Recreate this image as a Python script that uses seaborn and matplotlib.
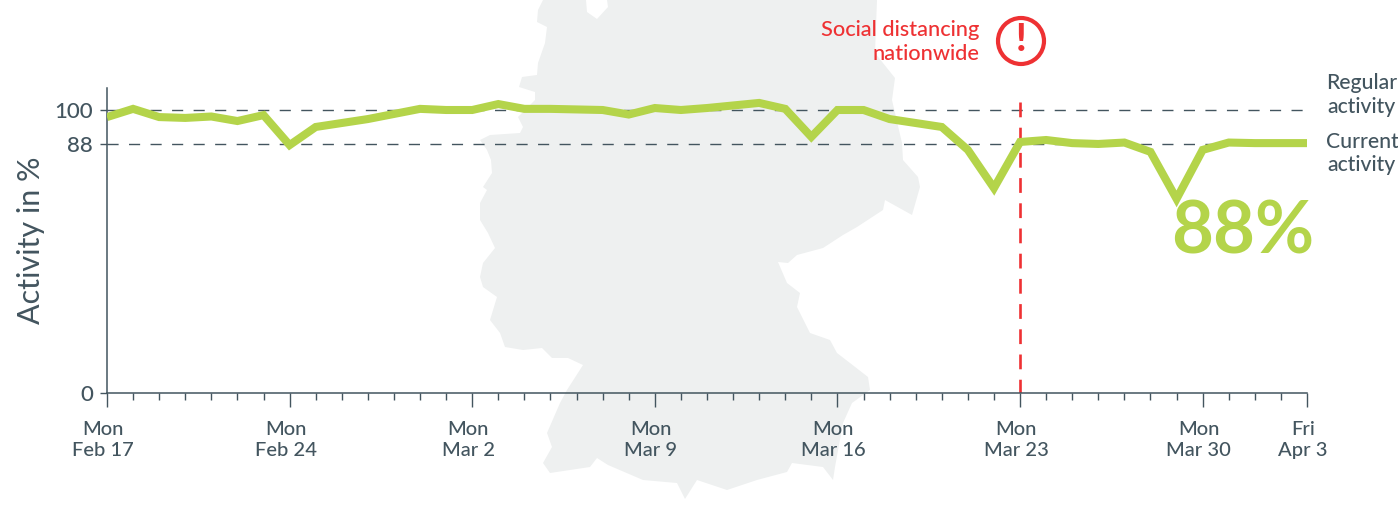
import matplotlib
matplotlib.use("Agg")
import matplotlib.pyplot as plt
import matplotlib.dates as mdates
import matplotlib.transforms as mtrans
from matplotlib.patches import Polygon, Circle
import pandas as pd
import seaborn as sns

activity = [97.5, 100.4, 97.5, 97.2, 97.7, 96.1, 98.2, 87.6, 94.0, 95.4, 96.8, 98.6,
            100.4, 100.0, 100.0, 102.1, 100.4, 100.4, 100.2, 100.0, 98.4, 100.7, 100.0,
            100.7, 101.6, 102.5, 100.4, 90.5, 100.0, 100.0, 96.8, 95.4, 94.0, 85.9, 72.4,
            88.7, 89.4, 88.3, 88.0, 88.5, 85.2, 68.6, 85.9, 88.5, 88.3, 88.3, 88.3]
start_date = "2020-02-17"
major_dates = ["2020-02-17", "2020-02-24", "2020-03-02", "2020-03-09", "2020-03-16",
               "2020-03-23", "2020-03-30", "2020-04-03"]
major_labels = ["Mon\nFeb 17", "Mon\nFeb 24", "Mon\nMar 2", "Mon\nMar 9", "Mon\nMar 16",
                "Mon\nMar 23", "Mon\nMar 30", "Fri\nApr 3"]
y_ticks = [0, 88, 100]
event_date = "2020-03-23"
headline = "88%"

# decorative background silhouette, in image pixels
map_outline = [(543,0),(538,10),(537,22),(547,27),(545,43),(538,63),(537,75),(522,77),(519,87),
    (535,92),(535,100),(518,117),(523,127),(520,133),(490,135),(480,140),(487,150),(491,160),
    (492,173),(483,187),(487,190),(480,203),(480,220),(488,233),(495,248),(483,263),(480,277),
    (483,287),(497,297),(490,320),(500,333),(505,347),(523,350),(542,348),(552,358),(568,358),
    (583,365),(567,390),(560,403),(547,433),(552,447),(543,463),(550,473),(590,467),(597,458),
    (608,465),(643,480),(677,483),(685,499),(697,480),(727,490),(757,480),(787,472),(792,463),
    (823,467),(833,480),(835,467),(843,423),(852,403),(870,390),(868,377),(850,363),(837,353),
    (830,340),(810,333),(797,307),(800,293),(787,283),(778,262),(788,263),(797,255),(823,248),
    (843,235),(857,227),(883,210),(885,200),(903,210),(912,215),(920,187),(918,177),(903,160),
    (902,143),(892,100),(895,78),(875,53),(877,0),(607,0),(608,7),(597,19),(587,12),(586,0)]

INK = "#43555f"
GREEN = "#b4d44a"
RED = "#ee3133"
MAP = "#eef0f0"
W, H = 1398, 516

sns.set_theme(style="white")
plt.rcParams["font.family"] = ["Lato", "DejaVu Sans"]
plt.rcParams["font.weight"] = "medium"

fig = plt.figure(figsize=(W / 100, H / 100), dpi=100)
ax = fig.add_axes([107 / W, 1 - 393 / H, 1200 / W, 305 / H])
ax.patch.set_alpha(0)

def px(x, y):
    return x / W, 1 - y / H

fig.patches.append(Polygon([px(*p) for p in map_outline], closed=True, transform=fig.transFigure,
                           facecolor=MAP, edgecolor="none", figure=fig, zorder=-1))

df = pd.DataFrame({"date": pd.date_range(start_date, periods=len(activity), freq="D"),
                   "activity": activity})
x0, x1 = df["date"].iloc[0], df["date"].iloc[-1]

for v in y_ticks[1:]:
    ax.plot([x0, x1], [v, v], color=INK, lw=1.0, dashes=(8, 7.5), zorder=2)
ax.plot([pd.Timestamp(event_date)] * 2, [103, 0], color=RED, lw=1.9, dashes=(5.6, 3.95), zorder=2)
sns.lineplot(data=df, x="date", y="activity", ax=ax, color=GREEN, lw=5.8, zorder=3,
             solid_joinstyle="miter", solid_capstyle="butt", errorbar=None)

ax.set_xlim(x0, x1)
ax.set_ylim(0, 305 / 2.83)
ax.set_yticks(y_ticks)
ax.set_xticks(pd.to_datetime(major_dates))
ax.set_xticklabels(major_labels, linespacing=1.28)
ax.xaxis.set_minor_locator(mdates.DayLocator())
ax.set_xlabel("")
ax.set_ylabel("Activity in %", fontsize=22, color=INK, fontweight="normal")
ax.yaxis.set_label_coords(31 / W, 1 - 240 / H, transform=fig.transFigure)
ax.yaxis.label.set_va("center")

ax.tick_params(axis="x", which="major", direction="out", length=10, width=1, color=INK,
               labelcolor=INK, labelsize=14.5, pad=10.5, bottom=True)
ax.tick_params(axis="x", which="minor", direction="out", length=5, width=1, color=INK, bottom=True)
ax.tick_params(axis="y", direction="out", length=5, width=1, color=INK, labelcolor=INK,
               labelsize=16, pad=5, left=True)
off = mtrans.ScaledTranslation(-4 / 100, 0, fig.dpi_scale_trans)
for lab in ax.get_xticklabels():
    lab.set_transform(lab.get_transform() + off)

for s in ["top", "right"]:
    ax.spines[s].set_visible(False)
for s in ["left", "bottom"]:
    ax.spines[s].set_color(INK)
    ax.spines[s].set_linewidth(1.1)

fig.text(*px(979, 30), "Social distancing", color=RED, fontsize=15.7, ha="right", va="center")
fig.text(*px(979, 54), "nationwide", color=RED, fontsize=15.7, ha="right", va="center")
fig.patches.append(Circle((1021, H - 41), 23, transform=None, facecolor="white", edgecolor=RED,
                          lw=3.0, figure=fig, zorder=3))
fig.text(*px(1021, 40), "!", color=RED, fontsize=27, fontweight="black", ha="center", va="center", zorder=4)

fig.text(*px(1326, 83), "Regular", color=INK, fontsize=15.2, ha="left", va="center")
fig.text(*px(1327, 107), "activity", color=INK, fontsize=15.2, ha="left", va="center")
fig.text(*px(1326, 142), "Current", color=INK, fontsize=15.2, ha="left", va="center")
fig.text(*px(1327, 165), "activity", color=INK, fontsize=15.2, ha="left", va="center")
fig.text(*px(1314, 254), headline, color=GREEN, fontsize=52, fontweight="bold", ha="right", va="baseline")

fig.savefig("out.png", dpi=100, facecolor="white")
